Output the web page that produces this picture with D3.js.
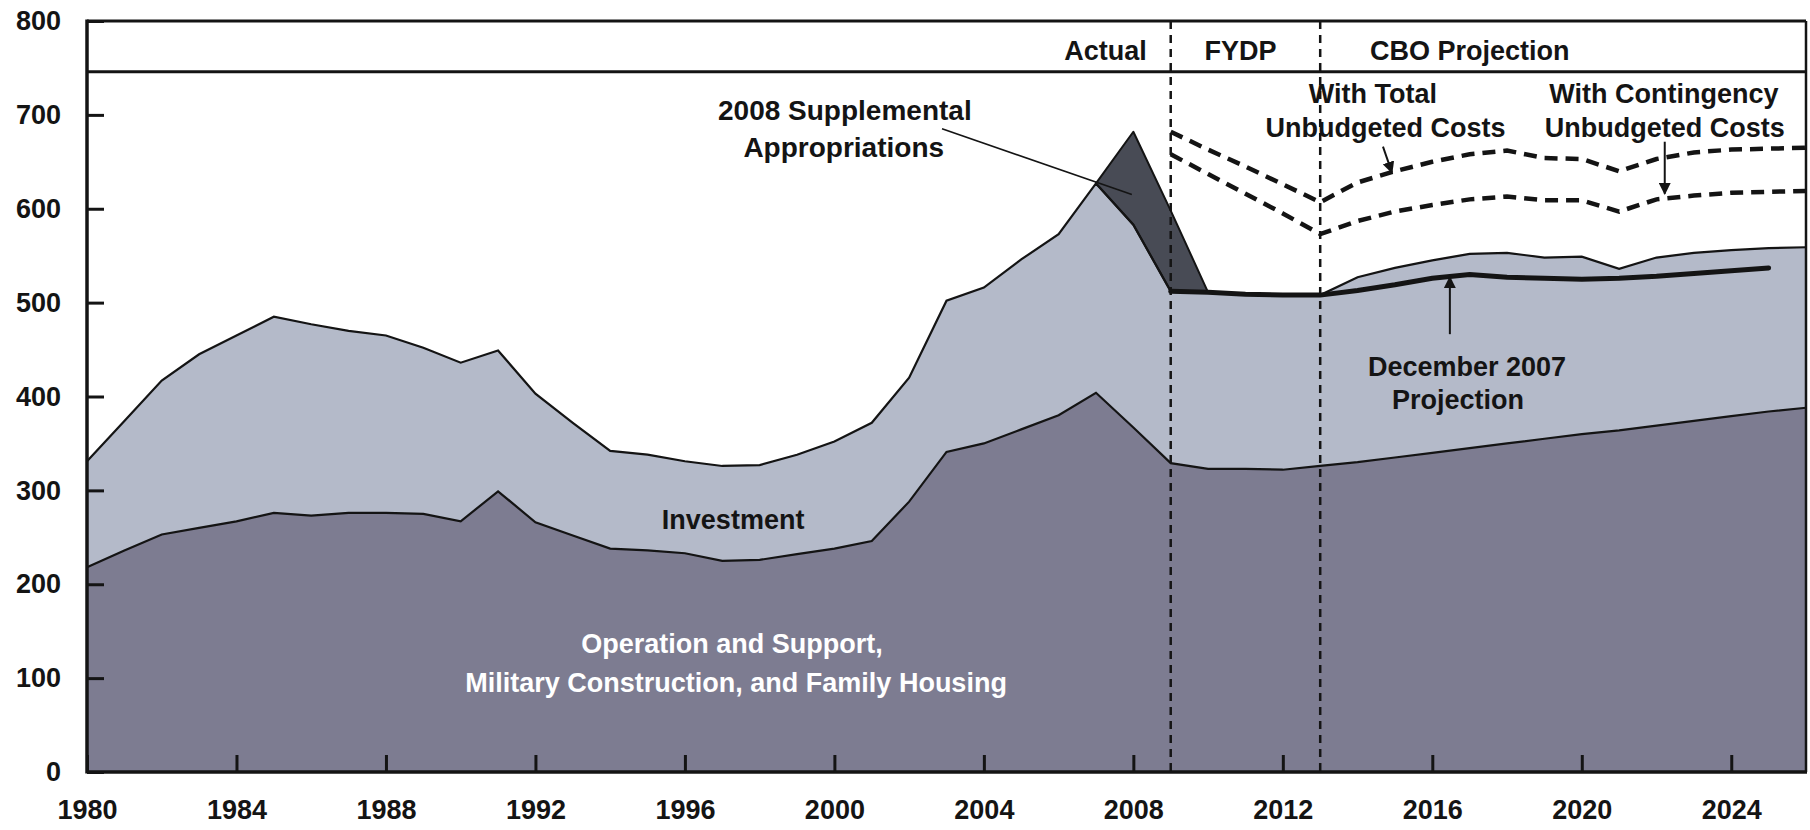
<!DOCTYPE html>
<html>
<head>
<meta charset="utf-8">
<script src="https://cdn.jsdelivr.net/npm/d3@7"></script>
<style>
  body { margin: 0; background: #ffffff; }
  svg { display: block; }
  text { font-family: "Liberation Sans", Arial, sans-serif; font-weight: bold; }
</style>
</head>
<body>
<svg id="chart" width="1810" height="830"></svg>
<script>
// ---------------- DATA ----------------
const years = [1980,1981,1982,1983,1984,1985,1986,1987,1988,1989,1990,1991,1992,1993,1994,1995,1996,1997,1998,1999,
               2000,2001,2002,2003,2004,2005,2006,2007,2008,2009,2010,2011,2012,2013,2014,2015,2016,2017,2018,2019,
               2020,2021,2022,2023,2024,2025,2026];
// Operation and Support, Military Construction, and Family Housing (billions)
const opsSupport = [218,236,253,260,267,276,273,276,276,275,267,299,266,252,238,236,233,225,226,232,
                    238,246,288,341,350,365,380,404,367,329,323,323,322,326,330,335,340,345,350,355,
                    360,364,369,374,379,384,388];
// Investment (stacked on top of O&S)
const investment = [113,138,164,185,198,209,204,194,189,177,169,150,137,120,104,102,98,101,101,106,
                    114,126,132,161,166,181,193,223,216,183,188,186,186,182,197,202,205,207,203,193,
                    189,172,179,179,177,174,171];
// 2008 supplemental appropriations (stacked on top of total)
const suppYears = [2007,2008,2009,2010];
const supplemental = [0,99,86,0];
// CBO projection with unbudgeted costs
const projYears = [2009,2010,2011,2012,2013,2014,2015,2016,2017,2018,2019,2020,2021,2022,2023,2024,2025,2026];
const totalUnbudgeted = [682,663,645,626,607,628,640,650,658,662,654,653,640,653,660,663,664,665];
const contingencyUnbudgeted = [658,637,616,595,573,587,597,604,610,613,609,609,597,610,614,617,618,619];
// December 2007 projection
const decYears = [2009,2010,2011,2012,2013,2014,2015,2016,2017,2018,2019,2020,2021,2022,2023,2024,2025];
const dec2007Projection = [512,511,509,508,508,513,519,526,530,527,526,525,526,528,531,534,537];
// Axis / period labels
const yTicks = [0,100,200,300,400,500,600,700,800];
const xTicks = [1980,1984,1988,1992,1996,2000,2004,2008,2012,2016,2020,2024];
const periodBreaks = [2009,2013];
const periodLabels = ["Actual","FYDP","CBO Projection"];

// ---------------- LAYOUT ----------------
const svg = d3.select("#chart");
const x = d3.scaleLinear().domain([1980, 2026]).range([87, 1806]);
const y = d3.scaleLinear().domain([0, 800]).range([772, 21]);

const C = {
  ops: "#7d7c91", inv: "#b4bac9", supp: "#484b55", ink: "#141414", white: "#ffffff"
};

const rows = years.map((yr, i) => ({ year: yr, ops: opsSupport[i], inv: investment[i] }));
const stack = d3.stack().keys(["ops", "inv"])(rows);
const totalByYear = new Map(rows.map(r => [r.year, r.ops + r.inv]));

const area = d3.area().x(d => x(d.data.year)).y0(d => y(d[0])).y1(d => y(d[1]));
const gAreas = svg.append("g");
gAreas.append("path").datum(stack[0]).attr("d", area).attr("fill", C.ops);
gAreas.append("path").datum(stack[1]).attr("d", area).attr("fill", C.inv);

// supplemental area
const suppRows = suppYears.map((yr, i) => ({ year: yr, base: totalByYear.get(yr), top: totalByYear.get(yr) + supplemental[i] }));
gAreas.append("path").datum(suppRows)
  .attr("d", d3.area().x(d => x(d.year)).y0(d => y(d.base)).y1(d => y(d.top)))
  .attr("fill", C.supp).attr("stroke", C.ink).attr("stroke-width", 2).attr("stroke-linejoin", "round");

// outlines
const line = d3.line().x(d => x(d.data.year)).y(d => y(d[1]));
gAreas.append("path").datum(stack[0]).attr("d", line).attr("fill", "none").attr("stroke", C.ink).attr("stroke-width", 2.2);
gAreas.append("path").datum(stack[1]).attr("d", line).attr("fill", "none").attr("stroke", C.ink).attr("stroke-width", 2.2);

// December 2007 projection (thick line)
const simpleLine = d3.line().x(d => x(d[0])).y(d => y(d[1]));
svg.append("path").datum(decYears.map((yr, i) => [yr, dec2007Projection[i]]))
  .attr("d", simpleLine).attr("fill", "none").attr("stroke", C.ink).attr("stroke-width", 5).attr("stroke-linecap", "round");

// dashed unbudgeted lines
[totalUnbudgeted, contingencyUnbudgeted].forEach(vals => {
  svg.append("path").datum(projYears.map((yr, i) => [yr, vals[i]]))
    .attr("d", simpleLine).attr("fill", "none").attr("stroke", C.ink)
    .attr("stroke-width", 4.5).attr("stroke-dasharray", "13,8");
});

// period break lines
periodBreaks.forEach(b => {
  svg.append("line").attr("x1", x(b)).attr("x2", x(b)).attr("y1", y(800)).attr("y2", y(0))
    .attr("stroke", C.ink).attr("stroke-width", 2.5).attr("stroke-dasharray", "8,6");
});

// frame + header band
const headerBottom = y(746);
svg.append("line").attr("x1", x(1980)).attr("x2", x(2026)).attr("y1", y(800)).attr("y2", y(800)).attr("stroke", C.ink).attr("stroke-width", 3);
svg.append("line").attr("x1", x(1980)).attr("x2", x(2026)).attr("y1", headerBottom).attr("y2", headerBottom).attr("stroke", C.ink).attr("stroke-width", 3);
svg.append("line").attr("x1", x(2026)).attr("x2", x(2026)).attr("y1", y(800)).attr("y2", y(0)).attr("stroke", C.ink).attr("stroke-width", 2.5);
svg.append("line").attr("x1", x(1980)).attr("x2", x(1980)).attr("y1", y(800) - 1.5).attr("y2", y(0) + 1.5).attr("stroke", C.ink).attr("stroke-width", 3.5);
svg.append("line").attr("x1", x(1980)).attr("x2", x(2026) + 1).attr("y1", y(0)).attr("y2", y(0)).attr("stroke", C.ink).attr("stroke-width", 3.5);

// axes
const yAxis = d3.axisLeft(y).tickValues(yTicks).tickSizeInner(-17).tickSizeOuter(0).tickPadding(26);
svg.append("g").attr("transform", `translate(${x(1980)},0)`).call(yAxis)
  .attr("font-size", 27)
  .call(g => g.select(".domain").remove())
  .call(g => g.selectAll(".tick line").attr("stroke", C.ink).attr("stroke-width", 3))
  .call(g => g.selectAll(".tick text").attr("fill", C.ink));

const xAxis = d3.axisBottom(x).tickValues(xTicks).tickFormat(d3.format("d")).tickSizeInner(-17).tickSizeOuter(0).tickPadding(28);
svg.append("g").attr("transform", `translate(0,${y(0)})`).call(xAxis)
  .attr("font-size", 27)
  .call(g => g.select(".domain").remove())
  .call(g => g.selectAll(".tick line").attr("stroke", C.ink).attr("stroke-width", 3))
  .call(g => g.selectAll(".tick text").attr("fill", C.ink));

// header labels
const hdrY = 60;
svg.append("text").attr("x", x(periodBreaks[0]) - 24).attr("y", hdrY).attr("text-anchor", "end").attr("font-size", 27).attr("fill", C.ink).text(periodLabels[0]);
svg.append("text").attr("x", (x(periodBreaks[0]) + x(periodBreaks[1])) / 2 - 5).attr("y", hdrY).attr("text-anchor", "middle").attr("font-size", 27).attr("fill", C.ink).text(periodLabels[1]);
svg.append("text").attr("x", x(2017)).attr("y", hdrY).attr("text-anchor", "middle").attr("font-size", 27).attr("fill", C.ink).text(periodLabels[2]);

// annotations
function label(lines, yr, vals, opts = {}) {
  lines.forEach((t, i) => {
    svg.append("text").attr("x", x(yr[i])).attr("y", y(vals[i]))
      .attr("text-anchor", "middle").attr("font-size", opts.size || 27)
      .attr("fill", opts.fill || C.ink).text(t);
  });
}
label(["2008 Supplemental", "Appropriations"], [2000.28, 2000.25], [694.8, 655.5], { size: 28 });
label(["With Total", "Unbudgeted Costs"], [2014.41, 2014.75], [712.8, 676.7]);
label(["With Contingency", "Unbudgeted Costs"], [2022.2, 2022.22], [712.8, 676.7]);
label(["Investment"], [1997.29], [259.2]);
label(["December 2007", "Projection"], [2016.93, 2016.69], [421.8, 386.7]);
label(["Operation and Support,", "Military Construction, and Family Housing"], [1997.26, 1997.37], [126.4, 85], { size: 27, fill: C.white });

// leader + arrows
const defs = svg.append("defs");
defs.append("marker").attr("id", "ah").attr("viewBox", "0 0 10 10").attr("refX", 9).attr("refY", 5)
  .attr("markerWidth", 12).attr("markerHeight", 12).attr("markerUnits", "userSpaceOnUse").attr("orient", "auto")
  .append("path").attr("d", "M0,0 L10,5 L0,10 z").attr("fill", C.ink);

function seg(a, b, arrow, w) {
  const l = svg.append("line").attr("x1", x(a[0])).attr("y1", y(a[1])).attr("x2", x(b[0])).attr("y2", y(b[1]))
    .attr("stroke", C.ink).attr("stroke-width", w || 2);
  if (arrow) l.attr("marker-end", "url(#ah)");
}
seg([2002.88, 685.2], [2007.96, 615.1], false, 1.6);
seg([2014.68, 666.1], [2014.92, 638.5], true);
seg([2022.22, 671.4], [2022.22, 616], true);
seg([2016.47, 466.4], [2016.47, 527], true);
</script>
</body>
</html>
